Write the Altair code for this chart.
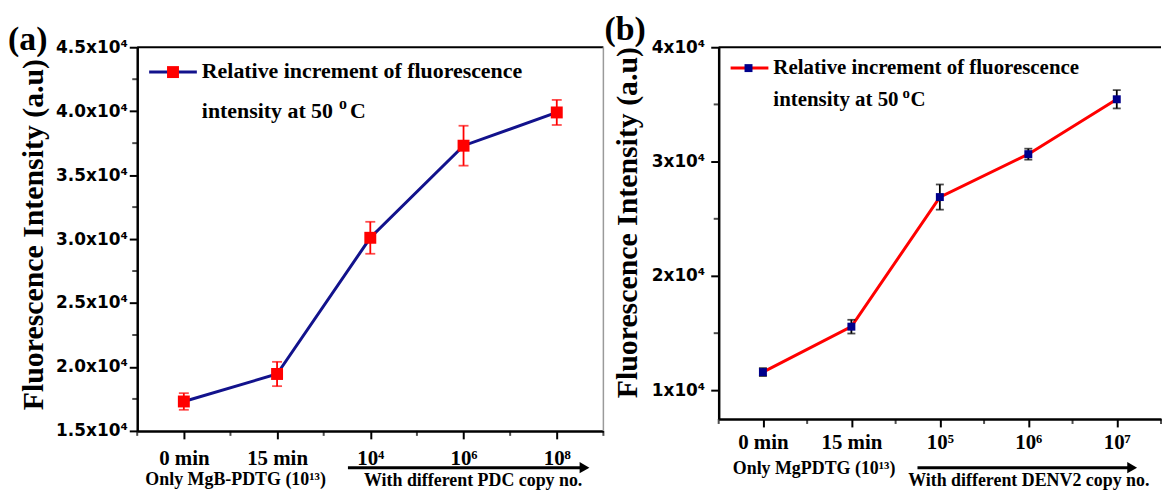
import json
import altair as alt
import pandas as pd

# ---------------- data ----------------
a_labels = ["0 min", "15 min", "10⁴", "10⁶", "10⁸"]
a_values = [17300, 19450, 30100, 37300, 39900]
a_errors = [650, 950, 1250, 1560, 980]

b_labels = ["0 min", "15 min", "10⁵", "10⁶", "10⁷"]
b_values = [11600, 15570, 26900, 30650, 35450]
b_errors = [350, 600, 1100, 480, 800]

# axis ticks
x_major = [0, 1, 2, 3, 4]
x_minor = [-0.5, 0.5, 1.5, 2.5, 3.5, 4.5]
a_y_major = [15000, 20000, 25000, 30000, 35000, 40000, 45000]
a_y_minor = [17500, 22500, 27500, 32500, 37500, 42500]
b_y_major = [10000, 20000, 30000, 40000]
b_y_minor = [15000, 25000, 35000]

a_df = pd.DataFrame({"idx": list(range(len(a_labels))), "label": a_labels, "val": a_values, "err": a_errors})
a_df["lo"] = a_df["val"] - a_df["err"]
a_df["hi"] = a_df["val"] + a_df["err"]
b_df = pd.DataFrame({"idx": list(range(len(b_labels))), "label": b_labels, "val": b_values, "err": b_errors})
b_df["lo"] = b_df["val"] - b_df["err"]
b_df["hi"] = b_df["val"] + b_df["err"]

SERIF = "Liberation Serif"
SANS = "DejaVu Sans"
ONE = alt.Data(values=[{"k": 0}])


def x_axis(labels, pad):
    expr = json.dumps(labels, ensure_ascii=False) + "[round(datum.value)]"
    return alt.Axis(
        values=x_major, labelExpr=expr, title=None, grid=False,
        labelFont=SERIF, labelFontWeight="bold", labelFontSize=21, labelColor="black",
        labelPadding=pad, labelOverlap=False, labelFlush=False,
        domainColor="black", domainWidth=2.5, tickColor="black", tickWidth=2, tickSize=8,
    )


def y_axis(values, expr, pad, title_x, title_y):
    return alt.Axis(
        values=values, labelExpr=expr, grid=False,
        title="Fluorescence Intensity (a.u)",
        titleFont=SERIF, titleFontWeight="bold", titleFontSize=30, titleColor="black",
        titleX=title_x, titleY=title_y, titleBaseline="alphabetic",
        labelFont=SANS, labelFontWeight="bold", labelFontSize=17, labelColor="black",
        labelPadding=pad, labelOverlap=False, labelFlush=False,
        domainColor="black", domainWidth=2.5, tickColor="black", tickWidth=2, tickSize=8,
    )


def text(t, x, y, size, align="left"):
    return alt.Chart(ONE).mark_text(
        text=t, font=SERIF, fontWeight="bold", fontSize=size, color="black",
        align=align, baseline="alphabetic"
    ).encode(x=alt.value(x), y=alt.value(y))


def arrow(x1, x2, y):
    shaft = alt.Chart(ONE).mark_rule(color="black", strokeWidth=3).encode(
        x=alt.value(x1), x2=alt.value(x2 - 8), y=alt.value(y))
    head = alt.Chart(ONE).mark_point(shape="triangle-right", filled=True, color="black",
                                     size=130, opacity=1).encode(
        x=alt.value(x2 - 7), y=alt.value(y))
    return [shaft, head]


def panel(df, labels, W, H, ydom, ymaj, ymin, yexpr, ypad, tx, ty,
          line_color, pt_color, pt_size, err_color, cap, xpad,
          leg, letter, bottom, right_border, top_space=None):
    xs = alt.Scale(domain=[-0.5, 4.5], nice=False, zero=False)
    ys = alt.Scale(domain=ydom, nice=False, zero=False)
    base = alt.Chart(df)
    line = base.mark_line(color=line_color, strokeWidth=3).encode(
        x=alt.X("idx:Q", scale=xs, axis=x_axis(labels, xpad)),
        y=alt.Y("val:Q", scale=ys, axis=y_axis(ymaj, yexpr, ypad, tx, ty)),
    )
    errs = base.mark_rule(color=err_color, strokeWidth=1.8).encode(
        x=alt.X("idx:Q", scale=xs), y=alt.Y("lo:Q", scale=ys), y2="hi:Q")
    cap_lo = base.mark_tick(color=err_color, orient="horizontal", size=cap, thickness=1.8).encode(
        x=alt.X("idx:Q", scale=xs), y=alt.Y("lo:Q", scale=ys))
    cap_hi = base.mark_tick(color=err_color, orient="horizontal", size=cap, thickness=1.8).encode(
        x=alt.X("idx:Q", scale=xs), y=alt.Y("hi:Q", scale=ys))
    pts = base.mark_square(color=pt_color, size=pt_size, opacity=1).encode(
        x=alt.X("idx:Q", scale=xs), y=alt.Y("val:Q", scale=ys))

    # minor ticks
    xmin_t = alt.Chart(pd.DataFrame({"p": x_minor})).mark_tick(
        color="black", orient="vertical", size=5, thickness=2).encode(
        x=alt.X("p:Q", scale=xs), y=alt.value(H + 2.5))
    ymin_t = alt.Chart(pd.DataFrame({"q": ymin})).mark_tick(
        color="black", orient="horizontal", size=5, thickness=2).encode(
        y=alt.Y("q:Q", scale=ys), x=alt.value(-2.5))

    layers = [line, errs, cap_lo, cap_hi, pts, xmin_t, ymin_t]
    # frame
    layers.append(alt.Chart(ONE).mark_rule(color="black", strokeWidth=2).encode(
        x=alt.value(0), x2=alt.value(W), y=alt.value(0)))
    if right_border:
        layers.append(alt.Chart(ONE).mark_rule(color="#9a9a9a", strokeWidth=1.5).encode(
            x=alt.value(W), y=alt.value(0), y2=alt.value(H)))
    if top_space is not None:
        # invisible spacer that reserves head room for the panel letter
        layers.append(alt.Chart(ONE).mark_rule(color="white", strokeWidth=1, opacity=0).encode(
            x=alt.value(0), x2=alt.value(2), y=alt.value(top_space)))

    # legend
    lx1, lx2, ly, sqx, tx0, b1, b2, fs, ox, cx, ob = leg
    layers.append(alt.Chart(ONE).mark_rule(color=line_color, strokeWidth=3).encode(
        x=alt.value(lx1), x2=alt.value(lx2), y=alt.value(ly)))
    layers.append(alt.Chart(ONE).mark_square(color=pt_color, size=pt_size, opacity=1).encode(
        x=alt.value(sqx), y=alt.value(ly)))
    layers.append(text("Relative increment of fluorescence", tx0, b1, fs))
    layers.append(text("intensity at 50", tx0, b2, fs))
    layers.append(text("o", ox, ob, round(fs * 0.72)))
    layers.append(text("C", cx, b2, fs))

    # panel letter
    lt, lxp, lyp, lfs = letter
    layers.append(text(lt, lxp, lyp, lfs))

    # bottom annotations
    (t1, t1x, t1y), (ax1, ax2, ay), (t2, t2x, t2y), bfs = bottom
    layers.append(text(t1, t1x, t1y, bfs, align="center"))
    layers += arrow(ax1, ax2, ay)
    layers.append(text(t2, t2x, t2y, bfs, align="center"))

    return alt.layer(*layers).properties(width=W, height=H)


WA, HA = 469, 386
WB, HB = 445, 374

left = panel(
    a_df, a_labels, WA, HA,
    ydom=[15000, 45000], ymaj=a_y_major, ymin=a_y_minor,
    yexpr="format(datum.value / 10000, '.1f') + 'x10⁴'",
    ypad=2, tx=-95, ty=188,
    line_color="#12128C", pt_color="#FF0000", pt_size=144, err_color="#FF0000", cap=10, xpad=9,
    leg=(12, 60, 25, 36, 65, 31, 71, 22, 203, 214, 62),
    letter=("(a)", -130, 3, 34),
    bottom=(("Only MgB-PDTG (10¹³)", 99, 440), (212, 457, 423),
            ("With different PDC copy no.", 338, 441), 18),
    right_border=True,
)

right = panel(
    b_df, b_labels, WB, HB,
    ydom=[7500, 40000], ymaj=b_y_major, ymin=b_y_minor,
    yexpr="format(datum.value / 10000, 'd') + 'x10⁴'",
    ypad=6, tx=-83, ty=176,
    line_color="#FF0000", pt_color="#00008B", pt_size=64, err_color="black", cap=8, xpad=5,
    leg=(12, 50, 21, 30, 55, 27, 59, 21, 185, 193, 51),
    letter=("(b)", -115, -7, 34),
    bottom=(("Only MgPDTG (10¹³)", 96, 429), (200, 423, 423),
            ("With different DENV2 copy no.", 312, 441), 18),
    right_border=False,
    top_space=-38,
)

chart = alt.hconcat(left, right, spacing=0).properties(padding=0).configure_view(strokeWidth=0)

chart.save("out.html", embed_options={"renderer": "svg", "actions": False})
